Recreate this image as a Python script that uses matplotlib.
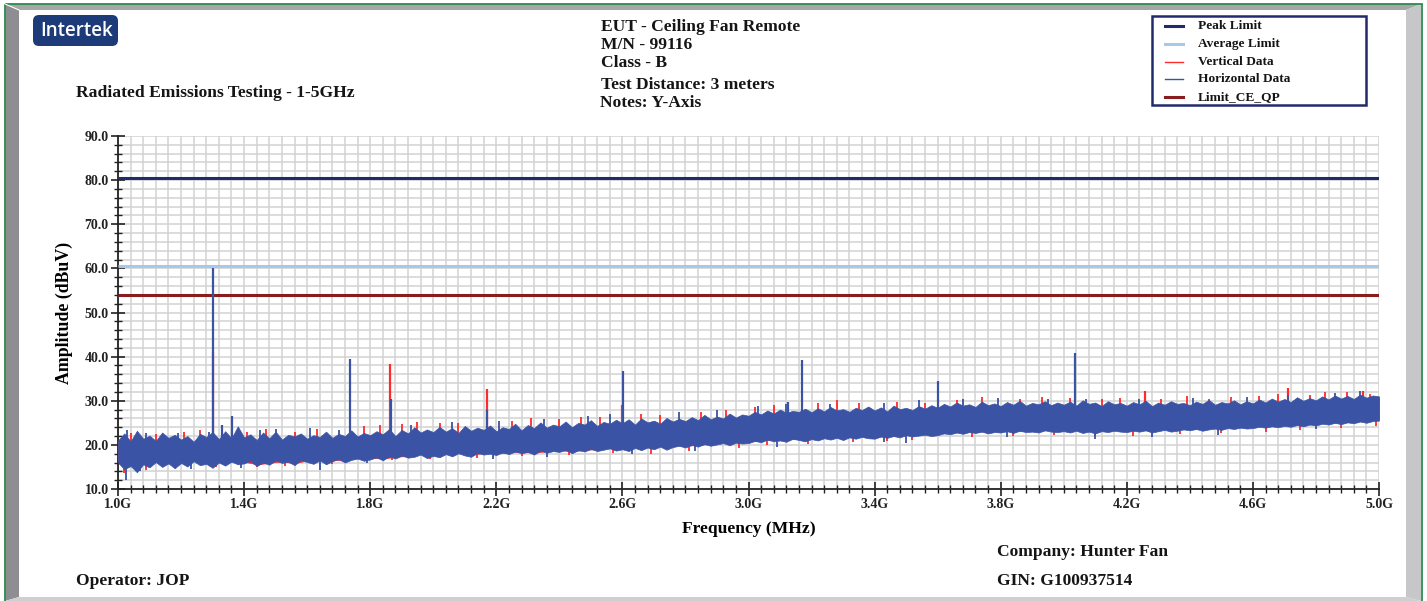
import numpy as np
import matplotlib
matplotlib.use("Agg")
import matplotlib.pyplot as plt
from matplotlib.patches import Polygon, Rectangle, FancyBboxPatch
from matplotlib.lines import Line2D
from matplotlib.ticker import MultipleLocator, FuncFormatter

# ---------------------------------------------------------------- data
FREQ_MIN, FREQ_MAX = 1.0, 5.0          # GHz
AMP_MIN, AMP_MAX = 10.0, 90.0          # dBuV

peak_limit = 80.5
average_limit = 60.5
limit_ce_qp = 54.0

# horizontal polarisation sweep envelope, 20 MHz steps (1.00 ... 5.00 GHz)
horizontal_top = [
    21.0, 22.6, 20.8, 23.2, 21.4, 22.1, 20.9, 22.8, 21.6, 22.3,
    21.2, 22.0, 20.7, 22.5, 21.8, 22.9, 21.3, 23.1, 21.5, 24.2,
    21.7, 22.4, 21.1, 22.8, 21.5, 23.0, 21.2, 22.3, 21.9, 22.6,
    21.4, 22.2, 21.8, 23.0, 21.6, 22.5, 22.0, 23.3, 21.9, 22.7,
    22.2, 23.1, 22.4, 23.6, 22.0, 23.4, 22.6, 24.0, 22.8, 23.5,
    22.9, 24.1, 23.0, 23.8, 22.7, 24.3, 23.2, 23.9, 23.4, 24.4,
    23.1, 24.0, 23.6, 24.8, 23.3, 24.5, 23.8, 25.1, 23.9, 24.6,
    24.2, 25.3, 24.0, 25.0, 24.6, 25.6, 24.3, 25.2, 24.8, 25.7,
    24.9, 25.8, 24.6, 26.0, 25.1, 25.5, 24.8, 26.1, 25.3, 25.9,
    25.4, 26.3, 25.6, 26.8, 25.8, 26.4, 26.0, 27.1, 26.2, 26.9,
    26.6, 27.5, 26.9, 27.8, 27.1, 28.0, 27.3, 27.7, 27.5, 28.2,
    27.4, 28.3, 27.6, 28.6, 27.8, 28.1, 27.5, 28.4, 27.9, 28.7,
    27.8, 28.5, 27.6, 28.9, 28.1, 28.4, 27.9, 28.8, 28.2, 29.0,
    28.4, 29.3, 28.7, 29.6, 28.9, 29.2, 28.6, 29.8, 29.0, 29.4,
    28.8, 29.7, 29.1, 30.0, 28.9, 29.5, 29.2, 29.9, 29.0, 29.6,
    29.1, 29.8, 28.9, 30.1, 29.3, 29.6, 28.8, 29.9, 29.2, 29.5,
    28.9, 29.7, 29.2, 30.0, 28.8, 29.6, 29.1, 29.9, 29.3, 29.5,
    29.0, 29.8, 29.3, 30.2, 29.1, 29.7, 29.4, 30.1, 29.2, 29.9,
    29.4, 30.3, 29.6, 30.5, 29.8, 30.4, 29.7, 30.8, 30.0, 30.6,
    30.1, 31.0, 30.3, 31.2, 30.5, 31.1, 30.4, 31.4, 30.7, 31.2,
    31.0,
]
horizontal_bottom = [
    16.0, 14.5, 15.2, 13.8, 15.6, 14.9, 16.1, 15.0, 15.8, 14.7,
    15.9, 15.1, 16.3, 15.4, 15.7, 14.8, 16.0, 15.3, 16.2, 15.6,
    15.8, 16.4, 15.2, 16.0, 15.5, 16.5, 15.9, 16.2, 15.4, 16.6,
    16.1, 15.7, 16.5, 15.6, 16.3, 16.8, 16.0, 16.6, 16.9, 16.4,
    16.7, 17.2, 16.5, 17.4, 16.9, 17.6, 17.1, 17.3, 17.8, 17.0,
    17.5, 17.2, 17.9, 17.4, 18.1, 17.6, 17.3, 18.2, 17.8, 18.0,
    17.7, 18.3, 17.9, 18.5, 18.1, 18.4, 17.8, 18.7, 18.2, 18.6,
    18.4, 18.9, 18.1, 18.8, 18.5, 19.1, 18.6, 18.9, 19.2, 18.7,
    19.0, 18.6, 19.3, 18.8, 19.4, 19.0, 19.6, 18.9, 19.5, 19.8,
    19.4, 20.0, 19.6, 20.2, 19.8, 20.1, 20.4, 19.9, 20.5, 20.3,
    20.4, 20.9, 20.6, 21.2, 20.8, 21.0, 20.7, 21.4, 21.1, 20.8,
    21.3, 21.0, 21.5, 21.2, 21.6, 21.1, 21.7, 21.4, 21.8, 21.5,
    21.4, 21.9, 21.6, 22.0, 21.7, 22.2, 21.9, 22.1, 22.3, 22.0,
    22.2, 22.6, 22.4, 22.8, 22.5, 22.9, 22.7, 23.0, 22.6, 22.9,
    22.8, 23.1, 22.7, 23.2, 22.9, 23.0, 22.8, 23.3, 23.0, 22.9,
    23.1, 22.8, 23.2, 22.7, 23.0, 22.6, 23.1, 22.9, 23.2, 23.0,
    22.9, 23.2, 23.0, 23.3, 22.8, 23.1, 23.4, 23.0, 23.2, 23.5,
    23.3, 23.6, 23.2, 23.5, 23.7, 23.4, 23.8, 23.6, 23.9, 23.7,
    23.8, 24.1, 23.9, 24.2, 24.0, 24.3, 24.1, 24.5, 24.2, 24.6,
    24.4, 24.8, 24.6, 25.0, 24.7, 25.1, 24.9, 25.3, 25.0, 25.4,
    25.5,
]
# isolated sweep points outside the envelope
horizontal_high_freq = [1.03, 1.09, 1.19, 1.29, 1.45, 1.50, 1.61, 1.70, 1.93, 2.06, 2.21,
                        2.35, 2.49, 2.56, 2.78, 2.90, 3.03, 3.12, 3.26, 3.43, 3.54, 3.68,
                        3.79, 3.95, 4.07, 4.24, 4.41, 4.58, 4.71, 4.86, 4.94]
horizontal_high_amp = [23.4, 22.8, 22.6, 23.0, 23.3, 23.6, 23.9, 23.4, 24.6, 25.2, 25.4,
                       25.9, 26.6, 27.0, 27.4, 27.9, 28.9, 29.3, 29.2, 29.6, 30.1, 30.4,
                       30.6, 30.5, 30.4, 30.3, 30.6, 30.9, 31.4, 31.8, 32.1]
horizontal_low_freq = [1.025, 1.07, 1.23, 1.39, 1.64, 1.79, 2.19, 2.36, 2.63, 2.83, 3.09,
                       3.43, 3.50, 3.82, 4.10, 4.28, 4.49, 4.80]
horizontal_low_amp = [12.1, 14.0, 14.6, 14.8, 14.3, 16.0, 16.9, 17.3, 17.9, 18.5, 19.5,
                      20.6, 20.4, 21.8, 21.4, 21.8, 22.3, 23.5]

# vertical polarisation sweep envelope, 40 MHz steps (1.00 ... 5.00 GHz)
vertical_top = [
    20.6, 20.5, 21.0, 20.6, 21.2, 20.9, 20.4, 21.3, 21.0, 21.2,
    21.3, 20.8, 21.1, 20.9, 21.5, 21.0, 21.4, 21.3, 21.6, 21.5,
    21.8, 22.0, 21.7, 22.2, 22.4, 22.5, 22.6, 22.3, 22.8, 23.0,
    22.7, 23.2, 22.9, 23.4, 23.5, 23.8, 23.6, 24.1, 23.9, 24.4,
    24.5, 24.2, 24.7, 24.4, 24.9, 25.0, 25.2, 25.4, 25.6, 25.8,
    26.2, 26.5, 26.7, 26.9, 27.1, 27.0, 27.2, 27.4, 27.1, 27.5,
    27.4, 27.2, 27.7, 27.5, 27.8, 28.0, 28.3, 28.5, 28.2, 28.6,
    28.4, 28.7, 28.5, 28.8, 28.6, 28.7, 28.5, 28.9, 28.4, 28.8,
    28.5, 28.8, 28.4, 28.7, 28.9, 28.6, 28.9, 28.7, 29.0, 28.8,
    29.0, 29.2, 29.4, 29.3, 29.6, 29.7, 29.9, 30.1, 30.0, 30.3,
    30.6,
]
vertical_bottom = [
    16.4, 15.6, 16.0, 16.5, 16.2, 16.3, 16.7, 16.1, 16.4, 16.6,
    16.2, 15.6, 15.9, 16.3, 15.8, 16.5, 16.9, 16.7, 16.4, 17.3,
    17.1, 16.9, 17.3, 17.5, 18.2, 17.9, 18.3, 18.5, 17.7, 18.2,
    18.1, 18.3, 18.5, 18.2, 18.6, 18.8, 18.5, 18.9, 19.0, 19.6,
    19.4, 19.7, 19.8, 20.0, 19.9, 19.8, 20.0, 20.2, 20.8, 20.9,
    20.8, 21.0, 21.2, 21.1, 21.5, 21.7, 21.9, 22.0, 22.1, 22.2,
    21.8, 22.0, 22.1, 22.3, 22.7, 22.6, 22.8, 22.9, 23.1, 23.0,
    23.2, 23.1, 23.3, 23.2, 23.4, 23.5, 23.6, 23.4, 23.5, 23.6,
    23.3, 23.4, 23.2, 23.8, 23.6, 23.7, 23.6, 24.1, 24.2, 24.3,
    24.2, 24.3, 24.4, 24.5, 24.6, 24.8, 25.0, 25.1, 25.3, 25.4,
    25.9,
]
vertical_high_freq = [1.04, 1.12, 1.21, 1.26, 1.41, 1.47, 1.56, 1.63, 1.78, 1.83, 1.90,
                      1.95, 2.02, 2.08, 2.25, 2.31, 2.40, 2.47, 2.53, 2.66, 2.72, 2.85,
                      2.93, 3.02, 3.08, 3.22, 3.28, 3.35, 3.47, 3.56, 3.66, 3.74, 3.86,
                      3.93, 4.02, 4.12, 4.18, 4.31, 4.39, 4.46, 4.53, 4.62, 4.68, 4.78,
                      4.83, 4.90, 4.97]
vertical_high_amp = [22.8, 22.5, 22.9, 23.4, 23.0, 23.5, 22.9, 23.6, 24.2, 24.5, 24.8,
                     25.1, 24.9, 25.0, 25.3, 26.0, 25.8, 26.3, 26.4, 27.0, 26.8, 27.5,
                     27.8, 28.6, 29.0, 29.6, 30.2, 29.4, 29.8, 29.6, 30.2, 30.8, 30.4,
                     30.9, 30.6, 30.3, 30.7, 30.5, 31.0, 30.4, 30.8, 31.0, 31.5, 31.4,
                     31.9, 32.0, 31.6]
vertical_low_freq = [1.02, 1.09, 1.18, 1.31, 1.44, 1.53, 1.68, 1.87, 1.99, 2.14, 2.28,
                     2.43, 2.57, 2.69, 2.81, 2.97, 3.06, 3.19, 3.33, 3.44, 3.52, 3.71,
                     3.84, 3.97, 4.10, 4.22, 4.37, 4.50, 4.64, 4.75, 4.88, 4.99]
vertical_low_amp = [13.6, 14.4, 14.8, 15.0, 14.9, 15.2, 15.6, 16.5, 16.8, 17.0, 17.4,
                    17.6, 18.2, 18.0, 18.6, 19.4, 19.9, 20.3, 20.6, 20.9, 21.1, 21.7,
                    21.9, 22.2, 22.0, 21.9, 22.4, 22.6, 23.0, 23.4, 23.8, 24.2]

# narrowband emissions (GHz, dBuV)
horizontal_spike_freq = [1.300, 1.330, 1.362, 1.736, 1.865, 2.172, 2.602, 3.125, 3.170, 3.600, 4.035]
horizontal_spike_amp = [60.0, 24.5, 26.6, 39.4, 30.5, 28.0, 36.7, 29.8, 39.3, 34.4, 40.8]
vertical_spike_freq = [1.300, 1.863, 2.170, 2.600, 4.258, 4.710, 4.950]
vertical_spike_amp = [41.0, 38.4, 32.6, 29.0, 32.3, 32.8, 32.3]

x_major_ticks = [1.0, 1.4, 1.8, 2.2, 2.6, 3.0, 3.4, 3.8, 4.2, 4.6, 5.0]
y_major_ticks = [10, 20, 30, 40, 50, 60, 70, 80, 90]

# ---------------------------------------------------------------- style
SERIF = ["Liberation Serif", "DejaVu Serif"]
C_PEAK = "#222a6c"
C_AVG = "#a9c7e6"
C_VERT = "#ff2a2a"
C_HORZ = "#3a53a4"
C_QP = "#8a1c1f"
C_GRID = "#d2d2d2"
C_TEXT = "#151515"

W, H = 1427, 601
fig = plt.figure(figsize=(W / 100, H / 100), dpi=100)
fig.patch.set_facecolor("white")

# page background (pixel coordinates, y downwards)
bg = fig.add_axes([0, 0, 1, 1])
bg.set_xlim(0, W)
bg.set_ylim(H, 0)
bg.axis("off")
bg.set_zorder(0)

bg.add_patch(Polygon([(5, 4), (1421, 4), (1406, 10), (19, 10)], closed=True, fc="#a6a6a8", ec="none"))
bg.add_patch(Polygon([(5, 4), (19, 10), (19, 597), (5, 601)], closed=True, fc="#8e8e92", ec="none"))
bg.add_patch(Polygon([(1406, 10), (1421, 4), (1421, 601), (1406, 597)], closed=True, fc="#c7c7c9", ec="none"))
bg.add_patch(Polygon([(19, 597), (1406, 597), (1421, 601), (5, 601)], closed=True, fc="#cfcfd1", ec="none"))
bg.plot([5, 19], [4, 10], color="white", lw=0.8)
bg.add_patch(Rectangle((4.5, 3.5), 1417, 600, fill=False, ec="#2b8c4f", lw=1.3))

# logo
bg.add_patch(FancyBboxPatch((33, 15), 85, 31, boxstyle="round,pad=0,rounding_size=6",
                            fc="#1d3a79", ec="none"))
bg.text(76.5, 31, "Intertek", color="white", fontsize=13.5, fontweight="semibold",
        family=["Open Sans", "DejaVu Sans"], ha="center", va="center")

def label(x, y, s, size=12.6, **kw):
    bg.text(x, y, s, fontsize=size, fontweight="bold", family=SERIF, va="center", color=C_TEXT, **kw)

label(76, 93, "Radiated Emissions Testing - 1-5GHz")
label(601, 27, "EUT - Ceiling Fan Remote")
label(601, 45, "M/N - 99116")
label(601, 63, "Class - B")
label(601, 85, "Test Distance: 3 meters")
label(600, 103, "Notes: Y-Axis")
label(997, 552, "Company: Hunter Fan")
label(997, 581, "GIN: G100937514")
label(76, 581, "Operator: JOP")

# legend box
bg.add_patch(Rectangle((1152, 16), 214, 89, fill=False, ec=C_PEAK, lw=1.8))
legend_items = [
    ("Peak Limit", C_PEAK, 2.2),
    ("Average Limit", C_AVG, 2.2),
    ("Vertical Data", C_VERT, 1.0),
    ("Horizontal Data", C_HORZ, 1.0),
    ("Limit_CE_QP", C_QP, 2.2),
]
for i, (name, col, lw) in enumerate(legend_items):
    yy = 26 + i * 17.8
    bg.add_line(Line2D([1165, 1183], [yy, yy], color=col, lw=lw))
    bg.text(1198, yy, name, fontsize=9.6, fontweight="bold", family=SERIF, va="center", color=C_TEXT)

# ---------------------------------------------------------------- chart
L, R, T, B = 118, 1379, 136, 489
ax = fig.add_axes([L / W, 1 - B / H, (R - L) / W, (B - T) / H])
ax.set_zorder(1)
ax.set_xlim(FREQ_MIN, FREQ_MAX)
ax.set_ylim(AMP_MIN, AMP_MAX)

h_freq = np.linspace(FREQ_MIN, FREQ_MAX, len(horizontal_top))
v_freq = np.linspace(FREQ_MIN, FREQ_MAX, len(vertical_top))

ax.hlines([peak_limit], FREQ_MIN, FREQ_MAX, color=C_PEAK, lw=2.2, zorder=3)
ax.hlines([average_limit], FREQ_MIN, FREQ_MAX, color=C_AVG, lw=2.2, zorder=3)
ax.hlines([limit_ce_qp], FREQ_MIN, FREQ_MAX, color=C_QP, lw=2.2, zorder=3)


def draw_sweep(freq, bottom, top, hi_f, hi_a, lo_f, lo_a, sp_f, sp_a, color, z):
    ax.fill_between(freq, bottom, top, color=color, lw=0.5, zorder=z)
    ax.vlines(hi_f, np.interp(hi_f, freq, top) - 1.0, hi_a, color=color, lw=1.3, zorder=z)
    ax.vlines(lo_f, lo_a, np.interp(lo_f, freq, bottom) + 1.0, color=color, lw=1.3, zorder=z)
    ax.vlines(sp_f, np.interp(sp_f, freq, top) - 1.5, sp_a, color=color, lw=1.6, zorder=z)


draw_sweep(v_freq, vertical_bottom, vertical_top, vertical_high_freq, vertical_high_amp,
           vertical_low_freq, vertical_low_amp, vertical_spike_freq, vertical_spike_amp, C_VERT, 4)
draw_sweep(h_freq, horizontal_bottom, horizontal_top, horizontal_high_freq, horizontal_high_amp,
           horizontal_low_freq, horizontal_low_amp, horizontal_spike_freq, horizontal_spike_amp, C_HORZ, 5)

ax.set_xticks(x_major_ticks)
ax.set_yticks(y_major_ticks)
ax.xaxis.set_minor_locator(MultipleLocator(0.04))
ax.yaxis.set_minor_locator(MultipleLocator(2))
ax.xaxis.set_major_formatter(FuncFormatter(lambda v, p: f"{v:.1f}G"))
ax.yaxis.set_major_formatter(FuncFormatter(lambda v, p: f"{v:.1f}"))
ax.grid(which="both", color=C_GRID, lw=1.1, zorder=0)
ax.set_axisbelow(True)

for side in ("top", "right"):
    ax.spines[side].set_visible(False)
for side in ("left", "bottom"):
    ax.spines[side].set_linewidth(1.3)
    ax.spines[side].set_color("#222222")

ax.tick_params(which="major", direction="inout", length=9.5, width=1.2, color="#222222",
               labelsize=10, pad=2)
ax.tick_params(which="minor", direction="inout", length=6, width=1.0, color="#222222")
for lab in ax.get_xticklabels() + ax.get_yticklabels():
    lab.set_fontweight("bold")
    lab.set_family(SERIF)
    lab.set_color("#222222")

ax.set_xlabel("Frequency (MHz)", fontsize=12.6, fontweight="bold", family=SERIF, labelpad=7)
ax.set_ylabel("Amplitude (dBuV)", fontsize=12.8, fontweight="bold", family=SERIF, labelpad=8)

fig.savefig("out.png", dpi=100)
